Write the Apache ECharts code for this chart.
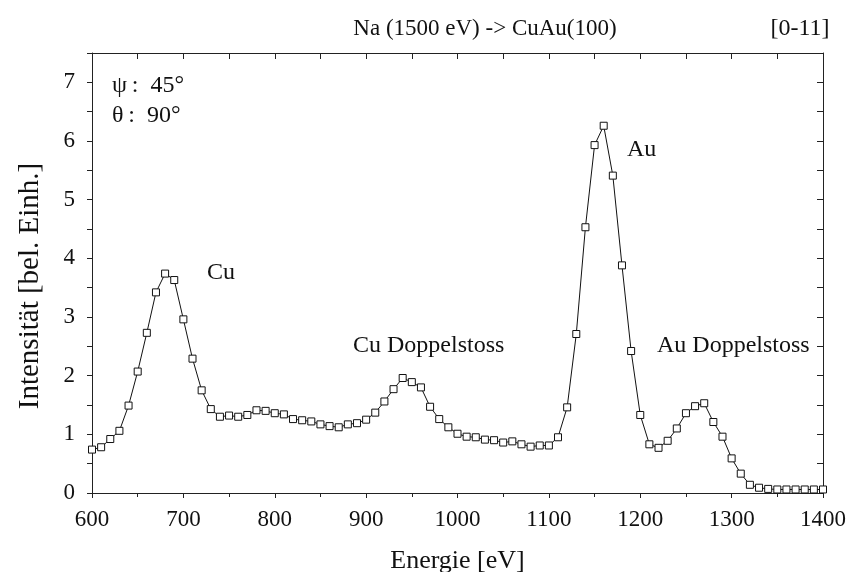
<!DOCTYPE html>
<html>
<head>
<meta charset="utf-8">
<script src="https://cdn.jsdelivr.net/npm/echarts@6/dist/echarts.min.js"></script>
<style>html,body{margin:0;padding:0;background:#fff}#c{width:851px;height:572px}</style>
</head>
<body>
<div id="c"></div>
<script>
var energies = [600,610,620,630,640,650,660,670,680,690,700,710,720,730,740,750,760,770,780,790,
  800,810,820,830,840,850,860,870,880,890,900,910,920,930,940,950,960,970,980,990,
  1000,1010,1020,1030,1040,1050,1060,1070,1080,1090,1100,1110,1120,1130,1140,1150,1160,1170,1180,1190,
  1200,1210,1220,1230,1240,1250,1260,1270,1280,1290,1300,1310,1320,1330,1340,1350,1360,1370,1380,1390,1400];
var intensity = [0.74,0.78,0.92,1.06,1.49,2.07,2.73,3.42,3.74,3.63,2.96,2.29,1.75,1.43,1.30,1.32,1.30,1.33,1.41,1.40,
  1.36,1.34,1.26,1.24,1.22,1.17,1.14,1.12,1.17,1.19,1.25,1.37,1.56,1.77,1.96,1.89,1.80,1.47,1.26,1.12,
  1.01,0.96,0.95,0.91,0.90,0.86,0.88,0.83,0.79,0.81,0.81,0.95,1.46,2.71,4.53,5.93,6.26,5.41,3.88,2.42,
  1.33,0.83,0.77,0.89,1.10,1.36,1.48,1.53,1.21,0.96,0.59,0.33,0.14,0.09,0.07,0.06,0.06,0.06,0.06,0.06,0.06];
var yTicks = [0,1,2,3,4,5,6,7];
var titleText = 'Na (1500 eV) -> CuAu(100)';
var tagText = '[0-11]';
var annotations = [
  {text:'\u03c8\u2009:\u00a0 45\u00b0', x:112, y:88},
  {text:'\u03b8\u2009:\u00a0 90\u00b0', x:112, y:118},
  {text:'Cu', x:207, y:275},
  {text:'Au', x:627, y:152},
  {text:'Cu Doppelstoss', x:353, y:348},
  {text:'Au Doppelstoss', x:657, y:348}
];

var FONT = 'Liberation Serif';
var chart = echarts.init(document.getElementById('c'), null, {renderer:'canvas'});
var points = energies.map(function(e,i){return [e, intensity[i]];});
var axisCommon = {
  axisLine:{show:true, onZero:false, lineStyle:{color:'#222', width:1}},
  splitLine:{show:false}
};
chart.setOption({
  animation:false,
  backgroundColor:'#fff',
  title:[
    {text:titleText, left:480, top:12, textAlign:'center',
     textStyle:{fontFamily:FONT, fontSize:23, fontWeight:'normal', color:'#111'}},
    {text:tagText, left:795, top:12, textAlign:'center',
     textStyle:{fontFamily:FONT, fontSize:24, fontWeight:'normal', color:'#111'}}
  ],
  grid:{left:92, right:28, top:53, bottom:79, containLabel:false, outerBoundsMode:'none'},
  xAxis:[
    Object.assign({type:'value', position:'bottom', min:600, max:1400, interval:100,
      name:'Energie [eV]', nameLocation:'middle', nameGap:55,
      nameTextStyle:{fontFamily:FONT, fontSize:26, color:'#111'},
      axisTick:{show:true, inside:false, length:5, lineStyle:{color:'#222'}},
      minorTick:{show:true, splitNumber:2, length:4, lineStyle:{color:'#222'}},
      axisLabel:{fontFamily:FONT, fontSize:23, color:'#111', margin:15,
        formatter:function(v){return String(v);}}
    }, axisCommon),
    Object.assign({type:'value', position:'top', min:600, max:1400, interval:50,
      axisTick:{show:true, inside:true, length:6, lineStyle:{color:'#222'}},
      axisLabel:{show:false}
    }, axisCommon)
  ],
  yAxis:[
    Object.assign({type:'value', position:'left', min:0, max:7.5, interval:0.5,
      name:'Intensit\u00e4t [bel. Einh.]', nameLocation:'middle', nameGap:47,
      nameTextStyle:{fontFamily:FONT, fontSize:29, color:'#111', padding:[0,0,0,-26]},
      axisTick:{show:true, inside:false, length:5, lineStyle:{color:'#222'}},
      axisLabel:{fontFamily:FONT, fontSize:23, color:'#111', margin:17,
        formatter:function(v){return yTicks.indexOf(v) >= 0 ? String(v) : '';}}
    }, axisCommon),
    Object.assign({type:'value', position:'right', min:0, max:7.5, interval:0.5,
      axisTick:{show:true, inside:true, length:6, lineStyle:{color:'#222'}},
      axisLabel:{show:false}
    }, axisCommon)
  ],
  series:[{
    type:'line', xAxisIndex:0, yAxisIndex:0, data:points,
    symbol:'rect', symbolSize:7, showAllSymbol:true,
    lineStyle:{color:'#111', width:1},
    itemStyle:{color:'#fff', borderColor:'#111', borderWidth:1},
    z:3
  }],
  graphic: annotations.map(function(a){
    return {type:'text', left:a.x, top:a.y - 14,
      style:{text:a.text, font:'24px "Liberation Serif"', fill:'#111'}};
  })
});
</script>
</body>
</html>
